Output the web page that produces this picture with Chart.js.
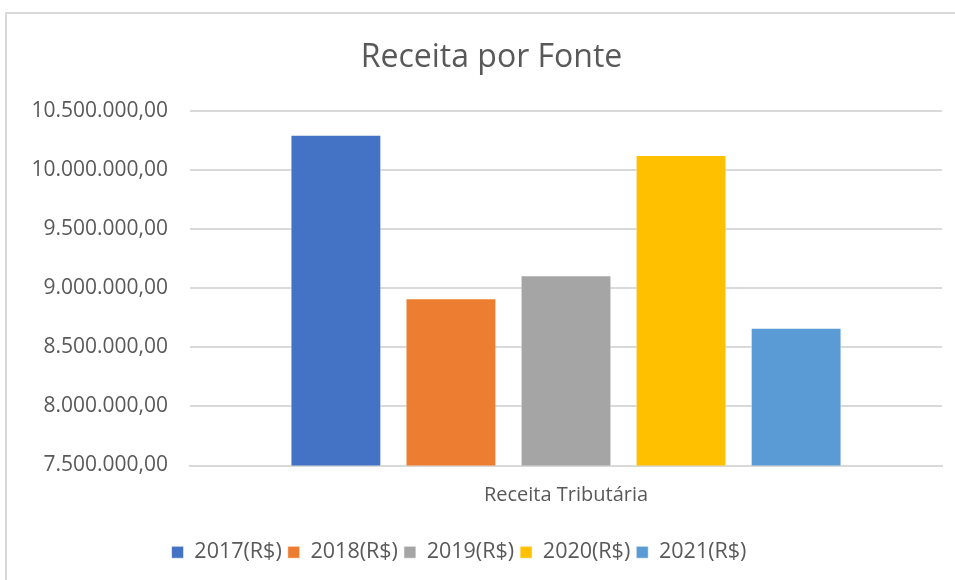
<!DOCTYPE html>
<html>
<head>
<meta charset="utf-8">
<script src="https://cdn.jsdelivr.net/npm/chart.js@4"></script>
<style>
  body { margin: 0; background: #fff; }
  #wrap { position: relative; width: 955px; height: 580px; }
  #frame { position: absolute; left: 5px; top: 12px; width: 960px; height: 600px; border: 2px solid #d9d9d9; pointer-events: none; }
</style>
</head>
<body>
<div id="wrap">
  <canvas id="chart" width="955" height="580"></canvas>
  <div id="frame"></div>
</div>
<script>
  const categories = ['Receita Tributária'];
  const seriesLabels = ['2017(R$)', '2018(R$)', '2019(R$)', '2020(R$)', '2021(R$)'];
  const seriesValues = [10303000, 8917000, 9111000, 10131000, 8666000];
  const seriesColors = ['#4472C4', '#ED7D31', '#A5A5A5', '#FFC000', '#5B9BD5'];

  const fmt = new Intl.NumberFormat('pt-BR', { minimumFractionDigits: 2, maximumFractionDigits: 2 });
  const textColor = '#595959';
  const fontFamily = "'Open Sans', 'Noto Sans', sans-serif";

  const datasets = seriesLabels.map((label, i) => ({
    label: label,
    data: [seriesValues[i]],
    backgroundColor: seriesColors[i],
    borderColor: 'rgba(255,255,255,0.6)',
    borderWidth: 1,
    borderSkipped: 'bottom',
    barPercentage: 0.79,
    categoryPercentage: 0.765
  }));

  // nudge the title to the right, like the excel layout
  const titleShift = {
    id: 'titleShift',
    afterLayout(chart) {
      chart.titleBlock.left += 65;
    }
  };

  const ctx = document.getElementById('chart').getContext('2d');

  const receitaChart = new Chart(ctx, {
    type: 'bar',
    data: {
      labels: categories,
      datasets: datasets
    },
    plugins: [titleShift],
    options: {
      responsive: false,
      animation: false,
      layout: {
        padding: { left: -24, right: 13, top: 0, bottom: 7 }
      },
      plugins: {
        title: {
          display: true,
          text: 'Receita por Fonte',
          color: textColor,
          font: { family: fontFamily, size: 32, weight: 'normal' },
          padding: { top: 39, bottom: 34 }
        },
        legend: {
          position: 'bottom',
          labels: {
            color: textColor,
            font: { family: fontFamily, size: 21.5 },
            boxWidth: 12,
            boxHeight: 12,
            padding: 6
          }
        },
        tooltip: { enabled: false }
      },
      scales: {
        x: {
          afterFit: (scale) => { scale.height += 18; },
          grid: { display: false },
          border: { display: true, color: '#d9d9d9', width: 2 },
          ticks: {
            color: textColor,
            font: { family: fontFamily, size: 20 },
            padding: 10
          }
        },
        y: {
          min: 7500000,
          max: 10500000,
          afterFit: (scale) => { scale.width = 214; },
          grid: { color: '#d9d9d9', lineWidth: 2, drawTicks: false },
          border: { display: false },
          ticks: {
            stepSize: 500000,
            color: textColor,
            font: { family: fontFamily, size: 21 },
            padding: 22,
            callback: (v) => fmt.format(v)
          }
        }
      }
    }
  });
</script>
</body>
</html>
